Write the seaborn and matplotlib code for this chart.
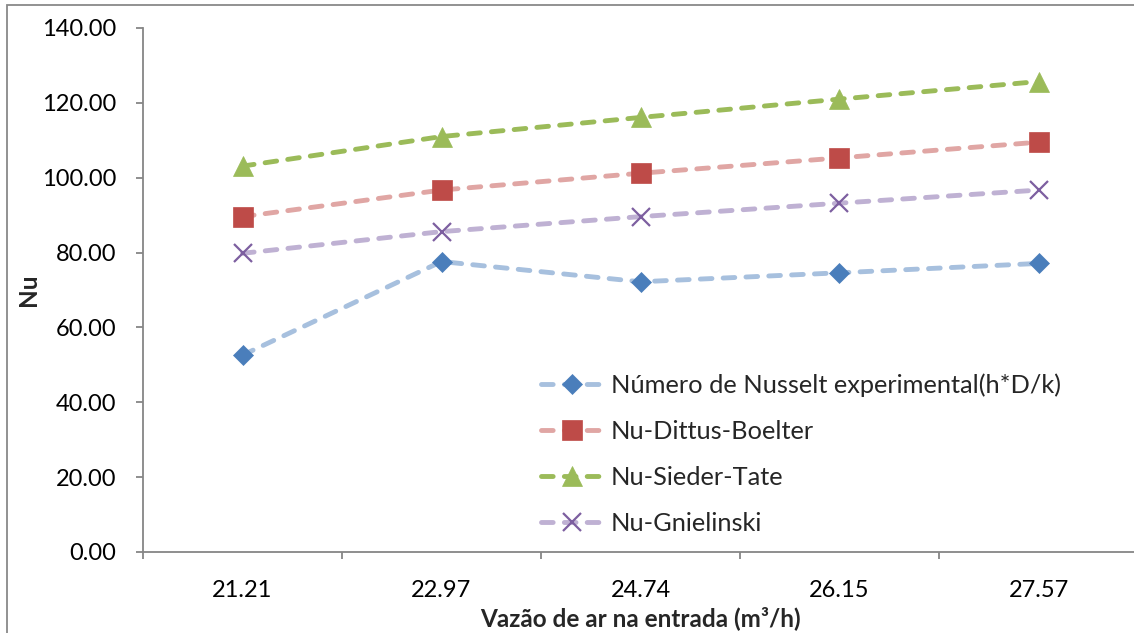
import matplotlib
matplotlib.use("Agg")
import matplotlib.pyplot as plt
from matplotlib.patches import Rectangle
from matplotlib.ticker import FixedLocator, FormatStrFormatter
import seaborn as sns
import pandas as pd

# ---- data ----
vazao = ["21.21", "22.97", "24.74", "26.15", "27.57"]
nu_experimental = [52.6, 77.6, 72.2, 74.6, 77.1]
nu_dittus_boelter = [89.6, 96.7, 101.2, 105.3, 109.5]
nu_sieder_tate = [103.1, 111.0, 116.1, 121.0, 125.7]
nu_gnielinski = [79.8, 85.6, 89.6, 93.2, 96.7]

series_names = ["Número de Nusselt experimental(h*D/k)", "Nu-Dittus-Boelter",
                "Nu-Sieder-Tate", "Nu-Gnielinski"]
series_values = [nu_experimental, nu_dittus_boelter, nu_sieder_tate, nu_gnielinski]

yticks = [0, 20, 40, 60, 80, 100, 120, 140]
xlabel = "Vazão de ar na entrada (m³/h)"
ylabel = "Nu"

# ---- style ----
sns.set_theme(style="white")
plt.rcParams["font.family"] = ["Lato", "DejaVu Sans"]

styles = [
    dict(color="#A7C0DE", marker="D", markersize=10.5, mfc="#4A7EBB", mec="#4A7EBB", mew=0.5),
    dict(color="#E0A6A4", marker="s", markersize=14, mfc="#BE4B48", mec="#BE4B48", mew=0.5),
    dict(color="#9BBB59", marker="^", markersize=15, mfc="#9BBB59", mec="#9BBB59", mew=0.5),
    dict(color="#BFB1D3", marker="x", markersize=13, mfc="#7D5FA0", mec="#7D5FA0", mew=1.6),
]

fig = plt.figure(figsize=(11.34, 6.33), dpi=100)
ax = fig.add_axes([143 / 1134, 81 / 633, 995 / 1134, 524 / 633])

for name, vals, st in zip(series_names, series_values, styles):
    df = pd.DataFrame({"x": vazao, "y": vals})
    sns.lineplot(data=df, x="x", y="y", ax=ax, label=name,
                 linewidth=3.5, linestyle=(0, (2.4, 2.3)),
                 dash_capstyle="round", sort=False, **st)

ax.set_ylim(0, 140)
ax.set_xlim(-0.5, len(vazao) - 0.5)
ax.yaxis.set_major_locator(FixedLocator(yticks))
ax.yaxis.set_major_formatter(FormatStrFormatter("%.2f"))

ax.set_xticks(range(len(vazao)))
ax.set_xticklabels(vazao)
ax.set_xticks([i - 0.5 for i in range(len(vazao) + 1)], minor=True)

gray = "#868686"
for s in ["top", "right"]:
    ax.spines[s].set_visible(False)
for s in ["left", "bottom"]:
    ax.spines[s].set_color(gray)
    ax.spines[s].set_linewidth(1.3)

ax.tick_params(axis="x", which="major", length=0, pad=20, labelsize=17, labelcolor="black")
ax.tick_params(axis="x", which="minor", length=5, width=1.3, color=gray, direction="out", bottom=True)
ax.tick_params(axis="y", which="major", length=5, width=1.3, color=gray, direction="out",
               pad=14, labelsize=17, labelcolor="black", left=True)
ax.grid(False)

ax.set_xlabel(xlabel, fontsize=17.5, fontweight="bold")
ax.set_ylabel(ylabel, fontsize=17.5, fontweight="bold")
ax.xaxis.set_label_coords(0.5, (552 - 618) / 524)
ax.xaxis.label.set_va("center")
ax.yaxis.set_label_coords((28 - 143) / 995, 0.5)
ax.yaxis.label.set_va("center")

leg = ax.legend(loc="upper left", bbox_to_anchor=((541 - 143) / 995, (552 - 373) / 524),
                frameon=False, fontsize=18.3, handlelength=2.45, handletextpad=0.3,
                labelspacing=0.91, borderaxespad=0, borderpad=0)

fig.patches.append(Rectangle((7 / 1134, -0.1), 1.2, 1.1 - 5 / 633,
                             transform=fig.transFigure, fill=False,
                             edgecolor="#898989", linewidth=1.3, zorder=-1))

fig.savefig("out.png", dpi=100)
